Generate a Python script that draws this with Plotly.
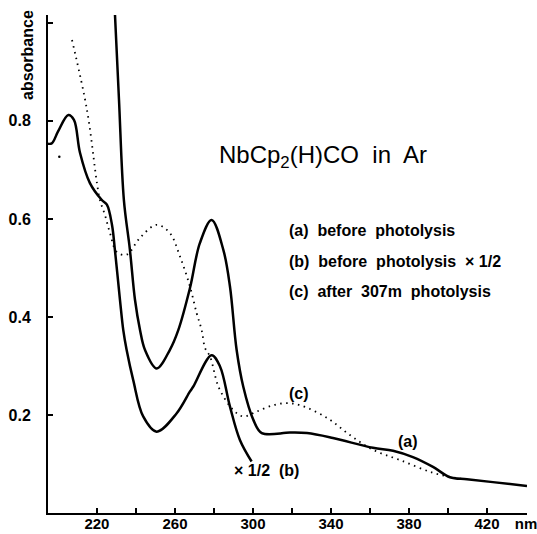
import plotly.graph_objects as go

# (a) before photolysis
wl_a = [229.2, 231.3, 233.8, 236.9, 239.5, 242.1, 244.6, 250.6, 257.4, 261.7, 267.7, 272.8,
        278.8, 284.8, 288.2, 291.6, 295.0, 300.2, 304.5, 319.0, 327.7, 341.0, 361.5, 371.8,
        382.0, 392.3, 401.0, 409.7, 423.0, 440.5]
abs_a = [1.02, 0.843, 0.639, 0.537, 0.435, 0.373, 0.333, 0.295, 0.333, 0.373, 0.459, 0.551,
         0.598, 0.537, 0.462, 0.333, 0.258, 0.19, 0.163, 0.164, 0.163, 0.153, 0.133, 0.127,
         0.114, 0.094, 0.073, 0.069, 0.063, 0.055]

# (b) before photolysis x 1/2
wl_b = [194.2, 196.8, 200.0, 205.3, 208.2, 211.3, 216.4, 222.4, 225.1, 227.7, 229.2, 231.8,
        233.5, 235.2, 238.6, 243.7, 250.6, 260.8, 267.7, 269.4, 278.8, 283.1, 288.2, 293.3, 299.3]
abs_b = [0.754, 0.754, 0.778, 0.812, 0.802, 0.735, 0.673, 0.639, 0.629, 0.588, 0.537, 0.435,
         0.373, 0.333, 0.271, 0.197, 0.166, 0.203, 0.248, 0.258, 0.322, 0.299, 0.217, 0.149, 0.105]

# (c) after 307 nm photolysis
wl_c = [207.2, 214.9, 220.0, 221.5, 224.1, 226.7, 230.1, 235.2, 242.0, 250.6, 257.4, 262.6,
        267.7, 271.1, 273.7, 275.4, 278.0, 282.6, 289.9, 295.0, 301.9, 310.4, 317.2, 324.1,
        338.0, 349.7, 361.5, 375.4, 392.3, 404.6, 409.7]
abs_c = [0.965, 0.822, 0.673, 0.639, 0.608, 0.571, 0.533, 0.527, 0.561, 0.588, 0.571, 0.523,
         0.462, 0.408, 0.373, 0.337, 0.319, 0.255, 0.21, 0.197, 0.207, 0.22, 0.224, 0.22,
         0.194, 0.159, 0.129, 0.108, 0.082, 0.071, 0.069]
stray_wl = [200.7]
stray_abs = [0.727]

x_tickvals = [220, 260, 300, 340, 380, 420, 440]
x_ticktext = ["220", "260", "300", "340", "380", "420", "nm"]
x_minorvals = [240, 280, 320, 360, 400]
y_tickvals = [0.2, 0.4, 0.6, 0.8]
y_ticktext = ["0.2", "0.4", "0.6", "0.8"]
y_minorvals = [1.0]

FONT = "Liberation Sans, Arial"

fig = go.Figure()
fig.add_trace(go.Scatter(x=wl_c, y=abs_c, mode="lines",
                         line=dict(color="black", width=1.8, dash="1.5px,4.5px", shape="spline")))
fig.add_trace(go.Scatter(x=stray_wl, y=stray_abs, mode="markers",
                         marker=dict(color="black", size=2.5)))
fig.add_trace(go.Scatter(x=wl_b, y=abs_b, mode="lines",
                         line=dict(color="black", width=2.5, shape="spline")))
fig.add_trace(go.Scatter(x=wl_a, y=abs_a, mode="lines",
                         line=dict(color="black", width=2.5, shape="spline")))

fig.update_layout(
    width=537, height=534,
    margin=dict(l=48, r=10, t=15, b=21),
    paper_bgcolor="white", plot_bgcolor="white",
    showlegend=False,
    font=dict(family=FONT, color="black"),
)
fig.update_xaxes(range=[194.9, 440.5], showgrid=False, zeroline=False, automargin=False,
                 showline=True, linecolor="black", linewidth=2,
                 ticks="inside", ticklen=5, tickwidth=1.5, tickcolor="black",
                 tickvals=x_tickvals, ticktext=x_ticktext, ticklabeloverflow="allow",
                 minor=dict(tickvals=x_minorvals, ticks="inside", ticklen=5, tickwidth=1.5,
                            tickcolor="black", showgrid=False),
                 tickfont=dict(size=15, family=FONT, weight="bold"),
                 ticklabelstandoff=-4)
fig.update_yaxes(range=[0, 1.016], showgrid=False, zeroline=False, automargin=False,
                 showline=True, linecolor="black", linewidth=2,
                 ticks="inside", ticklen=5, tickwidth=1.5, tickcolor="black",
                 tickvals=y_tickvals, ticktext=y_ticktext,
                 minor=dict(tickvals=y_minorvals, ticks="inside", ticklen=5, tickwidth=1.5,
                            tickcolor="black", showgrid=False),
                 tickfont=dict(size=16, family=FONT, weight="bold"),
                 ticklabelstandoff=12)

ann_font = dict(family=FONT, size=16, color="black", weight="bold")
fig.add_annotation(x=335.9, y=0.727, xref="x", yref="y", showarrow=False,
                   text="NbCp<sub>2</sub>(H)CO  in  Ar",
                   font=dict(family=FONT, size=24, color="black"))
legend_lines = ["(a)  before  photolysis",
                "(b)  before  photolysis  × 1/2",
                "(c)  after  307m  photolysis"]
legend_y = [0.576, 0.514, 0.451]
for t, yy in zip(legend_lines, legend_y):
    fig.add_annotation(x=317.4, y=yy, xref="x", yref="y", showarrow=False,
                       text=t, xanchor="left", font=ann_font)
fig.add_annotation(x=323.6, y=0.243, xref="x", yref="y", showarrow=False,
                   text="(c)", font=ann_font)
fig.add_annotation(x=379.5, y=0.145, xref="x", yref="y", showarrow=False,
                   text="(a)", font=ann_font)
fig.add_annotation(x=307.0, y=0.086, xref="x", yref="y", showarrow=False,
                   text="× 1/2  (b)", font=ann_font)
fig.add_annotation(x=(27 - 48) / 479, y=(513 - 55) / 498, xref="paper", yref="paper",
                   xanchor="center", yanchor="middle", showarrow=False,
                   text="absorbance", textangle=-90,
                   font=dict(family=FONT, size=16, color="black", weight="bold"))

fig.write_html("out.html")
